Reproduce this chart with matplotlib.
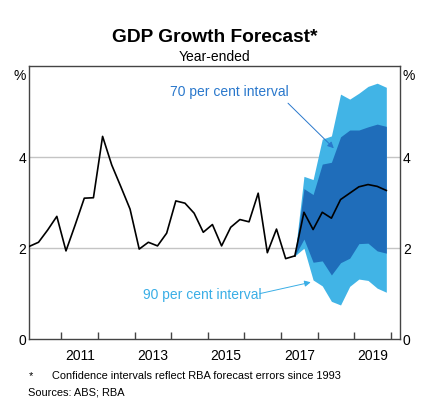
import matplotlib
matplotlib.use("Agg")
import matplotlib.pyplot as plt
import numpy as np
import pandas as pd

plt.rcParams["font.family"] = ["Liberation Sans", "DejaVu Sans"]

# ─────────────────────────────
# DATA (year-ended GDP growth, %)
# ─────────────────────────────
actual_start = "2010Q1"
actual = [2.04, 2.13, 2.40, 2.70, 1.94, 2.51, 3.10, 3.11, 4.46, 3.83,
          3.35, 2.86, 1.98, 2.13, 2.05, 2.33, 3.04, 2.99, 2.77, 2.35,
          2.52, 2.05, 2.46, 2.63, 2.58, 3.21, 1.90, 2.42, 1.77, 1.83]

forecast_start = "2017Q2"
forecast = [1.83, 2.79, 2.41, 2.79, 2.66, 3.07, 3.21, 3.35, 3.40, 3.36, 3.27]
upper_90 = [1.83, 3.58, 3.51, 4.40, 4.47, 5.39, 5.28, 5.41, 5.56, 5.63, 5.54]
upper_70 = [1.83, 3.31, 3.18, 3.85, 3.89, 4.45, 4.60, 4.60, 4.67, 4.73, 4.68]
lower_70 = [1.83, 2.20, 1.69, 1.72, 1.41, 1.68, 1.78, 2.10, 2.11, 1.94, 1.89]
lower_90 = [1.83, 2.00, 1.30, 1.17, 0.83, 0.75, 1.16, 1.32, 1.29, 1.12, 1.03]

year_labels = ["2011", "2013", "2015", "2017", "2019"]

LIGHT = "#41b4e6"
DARK = "#1f6dba"


def to_years(start, n):
    # quarter -> decimal year, plotted mid-quarter
    q = pd.period_range(start, periods=n, freq="Q")
    return np.array(q.year + (q.quarter - 0.5) / 4.0)


x_act = to_years(actual_start, len(actual))
x_fc = to_years(forecast_start, len(forecast))

# ─────────────────────────────
# DRAW
# ─────────────────────────────
fig = plt.figure(figsize=(4.45, 4.15), dpi=100)
ax = fig.add_axes([0.066, 0.183, 0.833, 0.657])

ax.fill_between(x_fc, lower_90, upper_90, color=LIGHT, lw=0, zorder=2)
ax.fill_between(x_fc, lower_70, upper_70, color=DARK, lw=0, zorder=3)
ax.plot(x_act, actual, color="black", lw=1.2, zorder=4)
ax.plot(x_fc, forecast, color="black", lw=1.2, zorder=4)

ax.set_xlim(2010.125, 2020.25)
ax.set_ylim(0, 6)

for y in (2, 4):
    ax.axhline(y, color="#c4c4c4", lw=1, zorder=1)

# year ticks on boundaries, labels mid-year
ax.set_xticks(range(2011, 2021))
ax.set_xticklabels([])
ax.set_xticks([int(y) + 0.5 for y in year_labels], minor=True)
ax.set_xticklabels(year_labels, minor=True, fontsize=10)
ax.tick_params(axis="x", which="major", direction="in", length=5, width=1,
               color="#444444")
ax.tick_params(axis="x", which="minor", length=0, pad=7)

ax.set_yticks([0, 2, 4])
ax.set_yticklabels(["0", "2", "4"], fontsize=10)
ax.tick_params(axis="y", length=0, pad=2, labelright=True, labelleft=True)

for s in ax.spines.values():
    s.set_color("#444444")
    s.set_linewidth(1)

# % markers
ax.text(-0.010, 0.965, "%", transform=ax.transAxes, ha="right", va="center",
        fontsize=10)
ax.text(1.006, 0.965, "%", transform=ax.transAxes, ha="left", va="center",
        fontsize=10)

# interval labels + arrows
C70 = "#2a78cc"
C90 = "#3aaee6"
ax.text(2015.59, 5.44, "70 per cent interval", color=C70, fontsize=10,
        ha="center", va="center")
ax.annotate("", xy=(2018.44, 4.20), xytext=(2017.19, 5.19),
            arrowprops=dict(arrowstyle="-|>", color=C70, lw=0.7,
                            mutation_scale=9, shrinkA=0, shrinkB=0))
ax.text(2014.84, 0.97, "90 per cent interval", color=C90, fontsize=10,
        ha="center", va="center")
ax.annotate("", xy=(2017.81, 1.25), xytext=(2016.42, 1.0),
            arrowprops=dict(arrowstyle="-|>", color=C90, lw=0.7,
                            mutation_scale=9, shrinkA=0, shrinkB=0))

# titles + notes
fig.text(0.483, 0.909, "GDP Growth Forecast*", ha="center", va="center",
         fontsize=13.8, fontweight="bold")
fig.text(0.483, 0.863, "Year-ended", ha="center", va="center", fontsize=10)
fig.text(0.064, 0.094, "*", ha="left", va="center", fontsize=7.9)
fig.text(0.117, 0.094, "Confidence intervals reflect RBA forecast errors since 1993",
         ha="left", va="center", fontsize=7.9)
fig.text(0.064, 0.055, "Sources: ABS; RBA", ha="left", va="center",
         fontsize=7.9)

fig.savefig("out.png", dpi=100)
plt.close(fig)
